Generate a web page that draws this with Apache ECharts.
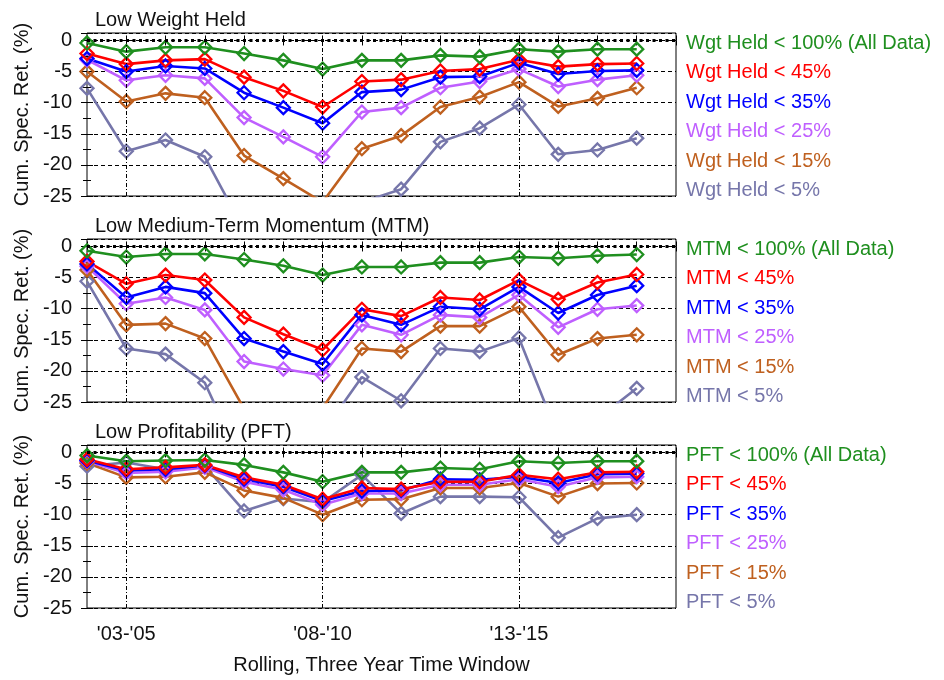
<!DOCTYPE html>
<html>
<head>
    <meta charset="utf-8">
    <title>Cumulative specific returns</title>
    <style type="text/css">
        * {
            margin: 0;
            padding: 0;
        }

        #chart {
            width: 944px;
            height: 680px;
            background: #fff;
        }
    </style>
</head>
<body>

<div id="chart"></div>

<script src="https://cdn.jsdelivr.net/npm/echarts@6/dist/echarts.min.js"></script>
<script type="text/javascript">

    // rolling three year windows, '02-'04 .. '16-'18
    const windows = ["'02-'04", "'03-'05", "'04-'06", "'05-'07", "'06-'08", "'07-'09", "'08-'10", "'09-'11",
        "'10-'12", "'11-'13", "'12-'14", "'13-'15", "'14-'16", "'15-'17", "'16-'18"];

    const panelTitles = ['Low Weight Held', 'Low Medium-Term Momentum (MTM)', 'Low Profitability (PFT)'];
    const panelPrefixes = ['Wgt Held', 'MTM', 'PFT'];
    const thresholds = ['100% (All Data)', '45%', '35%', '25%', '15%', '5%'];

    // Low Weight Held
    const wgt100 = [-0.4, -1.8, -1.1, -1.1, -2.1, -3.2, -4.6, -3.2, -3.2, -2.4, -2.6, -1.4, -1.8, -1.4, -1.4];
    const wgt45 = [-2.1, -3.8, -3.2, -3.0, -5.9, -8.1, -10.7, -6.6, -6.3, -4.9, -4.6, -3.1, -4.2, -3.8, -3.7];
    const wgt35 = [-2.9, -5.0, -4.1, -4.5, -8.4, -10.8, -13.3, -8.3, -7.9, -5.9, -5.8, -3.6, -5.4, -4.9, -4.8];
    const wgt25 = [-3.1, -6.4, -5.6, -6.1, -12.4, -15.5, -18.7, -11.5, -10.8, -7.6, -6.6, -4.6, -7.4, -6.3, -5.6];
    const wgt15 = [-5.0, -9.8, -8.5, -9.2, -18.5, -22.2, -26.0, -17.4, -15.3, -10.7, -9.1, -6.7, -10.6, -9.3, -7.6];
    const wgt5 = [-7.7, -17.8, -16.0, -18.7, -30.5, -32.0, -34.0, -26.0, -23.9, -16.3, -14.1, -10.3, -18.3, -17.6, -15.7];

    // Low Medium-Term Momentum
    const mtm100 = [-0.7, -1.7, -1.2, -1.2, -2.1, -3.1, -4.6, -3.3, -3.3, -2.6, -2.6, -1.7, -1.9, -1.5, -1.3];
    const mtm45 = [-2.4, -6.0, -4.6, -5.4, -11.4, -14.1, -16.6, -10.1, -11.2, -8.2, -8.6, -5.4, -8.5, -5.8, -4.5];
    const mtm35 = [-2.8, -8.2, -6.5, -7.5, -14.8, -16.9, -18.9, -11.0, -12.6, -9.7, -10.1, -6.5, -10.7, -7.8, -6.3];
    const mtm25 = [-3.2, -9.2, -8.2, -10.2, -18.5, -19.7, -20.7, -12.6, -14.2, -11.0, -11.4, -7.8, -13.0, -10.1, -9.5];
    const mtm15 = [-3.8, -12.6, -12.4, -14.8, -26.1, -29.0, -26.0, -16.4, -16.9, -12.8, -12.8, -9.7, -17.4, -14.8, -14.2];
    const mtm5 = [-5.6, -16.4, -17.3, -21.9, -35.6, -33.0, -29.9, -21.0, -24.8, -16.4, -16.9, -14.7, -30.5, -27.7, -22.8];

    // Low Profitability
    const pft100 = [-0.5, -1.4, -1.3, -1.2, -2.0, -3.2, -4.7, -3.2, -3.2, -2.5, -2.7, -1.4, -1.7, -1.4, -1.4];
    const pft45 = [-1.1, -2.7, -2.4, -2.0, -4.0, -5.2, -7.5, -5.7, -5.9, -4.7, -4.7, -3.6, -4.3, -3.2, -3.1];
    const pft35 = [-1.3, -2.9, -2.7, -2.1, -4.3, -5.5, -7.8, -6.2, -6.1, -4.3, -4.4, -3.9, -4.9, -3.5, -3.4];
    const pft25 = [-1.4, -3.3, -3.1, -2.4, -4.7, -6.0, -8.4, -6.6, -6.6, -5.2, -5.2, -4.3, -5.5, -4.0, -3.9];
    const pft15 = [-1.7, -4.0, -3.9, -3.2, -6.1, -7.3, -10.0, -7.6, -7.5, -5.7, -5.7, -4.9, -7.1, -5.0, -4.9];
    const pft5 = [-2.2, -1.6, -2.7, -2.2, -9.4, -7.4, -8.0, -3.6, -9.8, -7.1, -7.1, -7.2, -13.7, -10.6, -10.0];

    const panelData = [
        [wgt100, wgt45, wgt35, wgt25, wgt15, wgt5],
        [mtm100, mtm45, mtm35, mtm25, mtm15, mtm5],
        [pft100, pft45, pft35, pft25, pft15, pft5]
    ];

    const colors = ['#1f8f1f', '#ff0000', '#0000ff', '#bf5fff', '#bf601f', '#7676aa'];

    const font = 'Liberation Sans, Arial, Helvetica, sans-serif';
    const gridTops = [33, 239, 445];
    const gridHeight = 163;

    let grids = [], xAxes = [], yAxes = [], titles = [], legends = [], series = [];

    gridTops.forEach(function (top, p) {
        grids.push({
            left: 87, right: 268, top: top, height: gridHeight,
            show: true, borderColor: '#000', borderWidth: 1
        });

        titles.push({
            text: panelTitles[p], left: 95, top: top - 23, padding: 0,
            textStyle: {fontSize: 20, fontWeight: 'normal', color: '#111', fontFamily: font}
        });

        // bottom x axis
        xAxes.push({
            gridIndex: p, type: 'value', position: 'bottom', min: 0, max: 15, interval: 1,
            axisLine: {show: false},
            axisTick: {inside: true, length: 5, lineStyle: {color: '#000'}},
            axisLabel: {
                show: p === 2, margin: 16, fontSize: 20, color: '#111', fontFamily: font,
                formatter: function (v) {
                    return (v % 5 === 1 && windows[v]) ? windows[v] : '';
                }
            },
            splitLine: {show: false},
            name: p === 2 ? 'Rolling, Three Year Time Window' : '',
            nameLocation: 'middle', nameGap: 47,
            nameTextStyle: {fontSize: 20, color: '#111', fontFamily: font}
        });
        // mirrored top ticks
        xAxes.push({
            gridIndex: p, type: 'value', position: 'top', min: 0, max: 15, interval: 1,
            axisLine: {show: false},
            axisTick: {inside: true, length: 5, lineStyle: {color: '#000'}},
            axisLabel: {show: false},
            splitLine: {show: false}
        });

        yAxes.push({
            gridIndex: p, type: 'value', position: 'left', min: -25, max: 1.2, interval: 5,
            axisLine: {show: false},
            axisTick: {inside: true, length: 6, lineStyle: {color: '#000'}},
            minorTick: {show: true, splitNumber: 2, length: 4, lineStyle: {color: '#000'}},
            axisLabel: {margin: 15, fontSize: 20, color: '#111', fontFamily: font, showMaxLabel: false},
            splitLine: {show: true, lineStyle: {color: '#000', type: [4, 3], width: 1}},
            name: 'Cum. Spec. Ret. (%)', nameLocation: 'middle', nameGap: 55, nameRotate: 90,
            nameTextStyle: {fontSize: 20, color: '#111', fontFamily: font}
        });
        // mirrored right ticks
        yAxes.push({
            gridIndex: p, type: 'value', position: 'right', min: -25, max: 1.2, interval: 5,
            axisLine: {show: false},
            axisTick: {inside: true, length: 6, lineStyle: {color: '#000'}},
            minorTick: {show: true, splitNumber: 2, length: 4, lineStyle: {color: '#000'}},
            axisLabel: {show: false},
            splitLine: {show: false}
        });

        let names = thresholds.map(function (t) {
            return panelPrefixes[p] + ' < ' + t;
        });

        legends.push({
            orient: 'vertical', left: 680, top: top + 0.5, padding: 0,
            itemWidth: 0, itemHeight: 0, itemGap: 9.4, icon: 'rect', selectedMode: false,
            textStyle: {fontSize: 20, lineHeight: 20, fontFamily: font},
            data: names.map(function (n, j) {
                return {name: n, textStyle: {color: colors[j]}};
            })
        });

        // draw 5% first so that "All Data" sits on top
        for (let j = names.length - 1; j >= 0; j--) {
            let s = {
                name: names[j],
                type: 'line',
                xAxisIndex: p * 2,
                yAxisIndex: p * 2,
                data: panelData[p][j].map(function (v, i) {
                    return [i, v];
                }),
                symbol: 'diamond',
                symbolSize: 13,
                showAllSymbol: true,
                lineStyle: {color: colors[j], width: 2.6},
                itemStyle: {color: 'rgba(255,255,255,0)', borderColor: colors[j], borderWidth: 2.3},
                emphasis: {disabled: true},
                clip: true
            };
            if (j === names.length - 1) {
                s.markLine = {
                    silent: true, symbol: 'none', label: {show: false}, animation: false,
                    data: [
                        {yAxis: 0, lineStyle: {color: '#000', type: [3, 3.5], width: 3}},
                        {xAxis: 1, lineStyle: {color: '#000', type: [4, 2, 1, 2], width: 1}},
                        {xAxis: 6, lineStyle: {color: '#000', type: [4, 2, 1, 2], width: 1}},
                        {xAxis: 11, lineStyle: {color: '#000', type: [4, 2, 1, 2], width: 1}}
                    ]
                };
            }
            series.push(s);
        }
    });

    var myChart = echarts.init(document.getElementById('chart'));

    var option = {
        animation: false,
        backgroundColor: '#fff',
        textStyle: {fontFamily: font},
        title: titles,
        legend: legends,
        grid: grids,
        xAxis: xAxes,
        yAxis: yAxes,
        series: series
    };

    myChart.setOption(option);
</script>
</body>
</html>
